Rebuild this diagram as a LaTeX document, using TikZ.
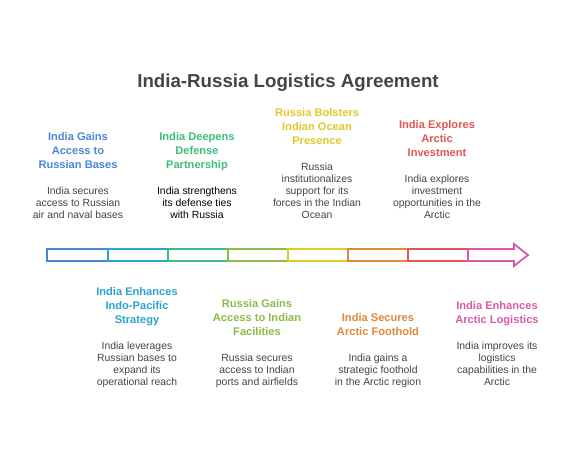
\documentclass[tikz,border=0pt]{standalone}
\usepackage{fontspec}
\setmainfont{Liberation Sans}
\usepackage{xcolor}
\usepackage{tikz}
\usetikzlibrary{positioning}
\definecolor{cBlue}{HTML}{4A86D8}
\definecolor{cCyan}{HTML}{2AA5D2}
\definecolor{cGreen}{HTML}{3DBE7E}
\definecolor{cOlive}{HTML}{8DBB45}
\definecolor{cYellow}{HTML}{E3C82C}
\definecolor{cOrange}{HTML}{E0893C}
\definecolor{cRed}{HTML}{E25555}
\definecolor{cPink}{HTML}{D95AA8}
\definecolor{cText}{HTML}{444444}
\begin{document}
\begin{tikzpicture}[x=1pt,y=-1pt,node distance=14pt]
\tikzstyle{every node}+=[inner sep=0pt]
\tikzstyle{headtext}=[font=\bfseries\fontsize{11.1}{14}\selectfont,align=center,execute at begin node=\strut,execute at end node=\strut]
\tikzstyle{desctext}=[font=\fontsize{10.4}{12}\selectfont,align=center,text=cText,anchor=south,execute at begin node=\strut,execute at end node=\strut]
\tikzstyle{seg}=[line width=1.8pt,fill=white,line join=miter]
\fill [white] (0,0) rectangle (576,450);
\useasboundingbox (0,0) rectangle (576,450);
\node (title) at (288,87.7) [anchor=base,text=cText,font=\bfseries\fontsize{18.7}{22}\selectfont] {India-Russia Logistics Agreement};
\draw [seg,draw=cBlue] (47,249) rectangle (108,261);
\draw [seg,draw=cCyan] (108,249) rectangle (168,261);
\draw [seg,draw=cGreen] (168,249) rectangle (228,261);
\draw [seg,draw=cOlive] (228,249) rectangle (288,261);
\draw [seg,draw=cYellow] (288,249) rectangle (348,261);
\draw [seg,draw=cOrange] (348,249) rectangle (408,261);
\draw [seg,draw=cRed] (408,249) rectangle (468,261);
\draw [seg,draw=cPink] (468,249) -- (514,249) -- (514,244) -- (528,255) -- (514,266) -- (514,261) -- (468,261) -- cycle;
\node (d1) at (78,222.3) [desctext] {India secures\\access to Russian\\air and naval bases};
\node (h1) [headtext,text=cBlue,above=of d1] {India Gains\\Access to\\Russian Bases};
\node (d2) at (197,222.3) [desctext,text=black] {India strengthens\\its defense ties\\with Russia};
\node (h2) [headtext,text=cGreen,above=of d2] {India Deepens\\Defense\\Partnership};
\node (d3) at (317,222.3) [desctext] {Russia\\institutionalizes\\support for its\\forces in the Indian\\Ocean};
\node (h3) [headtext,text=cYellow,above=of d3] {Russia Bolsters\\Indian Ocean\\Presence};
\node (d4) at (437,222.3) [desctext] {India explores\\investment\\opportunities in the\\Arctic};
\node (h4) [headtext,text=cRed,above=of d4] {India Explores\\Arctic\\Investment};
\node (d5) at (137,389.3) [desctext] {India leverages\\Russian bases to\\expand its\\operational reach};
\node (h5) [headtext,text=cCyan,above=of d5] {India Enhances\\Indo-Pacific\\Strategy};
\node (d6) at (257,389.3) [desctext] {Russia secures\\access to Indian\\ports and airfields};
\node (h6) [headtext,text=cOlive,above=of d6] {Russia Gains\\Access to Indian\\Facilities};
\node (d7) at (378,389.3) [desctext] {India gains a\\strategic foothold\\in the Arctic region};
\node (h7) [headtext,text=cOrange,above=of d7] {India Secures\\Arctic Foothold};
\node (d8) at (497,389.3) [desctext] {India improves its\\logistics\\capabilities in the\\Arctic};
\node (h8) [headtext,text=cPink,above=of d8] {India Enhances\\Arctic Logistics};
\end{tikzpicture}
\end{document}
